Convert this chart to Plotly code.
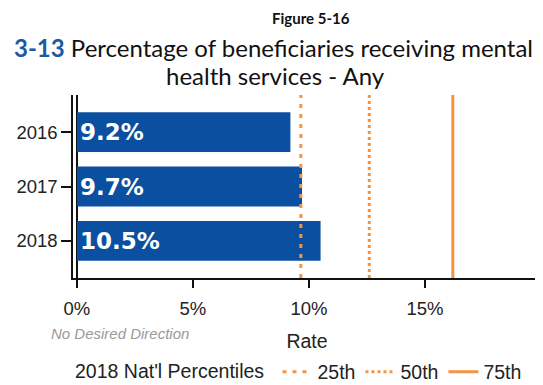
import plotly.graph_objects as go

years = ["2016", "2017", "2018"]
rates = [9.2, 9.7, 10.5]
pct_names = ["25th", "50th", "75th"]
pct_values = [9.65, 12.6, 16.2]
pct_dashes = ["4px,6px", "3px,3px", "solid"]
x_ticks = [0, 5, 10, 15]
x_tick_labels = ["0%", "5%", "10%", "15%"]

BAR = "#0A4FA0"
ORANGE = "#F39443"

# page has an 8px body margin; figure coordinates = page coordinates - 8
OFF = 8
W, H = 543 - OFF, 385 - OFF
PL, PR, PT, PB = 73, 541, 95, 278   # plot area in page pixels
L, R, T, B = PL - OFF, W - (PR - OFF), PT - OFF, H - (PB - OFF)
PW, PH = W - L - R, H - T - B
def px(x): return (x - OFF - L) / PW
def py(y): return (H - B - (y - OFF)) / PH

fig = go.Figure()
fig.add_trace(go.Bar(
    y=years, x=rates, orientation="h", marker=dict(color=BAR, line=dict(width=0)),
    width=0.73, text=[f"{v:.1f}%" for v in rates], textposition="inside",
    insidetextanchor="start", textangle=0,
    textfont=dict(family="DejaVu Sans", size=23, color="white", weight="bold"),
    showlegend=False, hoverinfo="skip",
))

for name, val, dash in zip(pct_names, pct_values, pct_dashes):
    fig.add_shape(type="line", x0=val, x1=val, xref="x", y0=0, y1=1, yref="paper",
                  line=dict(color=ORANGE, width=3, dash=dash),
                  showlegend=True, name=name, layer="above")

TXT = "#222222"
fig.update_layout(
    template="none",
    width=W, height=H,
    margin=dict(l=L, r=R, t=T, b=B, autoexpand=False),
    paper_bgcolor="white", plot_bgcolor="white",
    font=dict(family="Liberation Sans", color=TXT),
    xaxis=dict(range=[-0.17, 20], tickmode="array", tickvals=x_ticks, ticktext=x_tick_labels,
               automargin=False, showgrid=False,
               zeroline=True, zerolinecolor="#111111", zerolinewidth=1.5,
               showline=True, linecolor="#111111", linewidth=1.5,
               ticks="outside", ticklen=8, tickcolor="#111111", tickwidth=1.5,
               ticklabelstandoff=5,
               tickfont=dict(size=18.5, color=TXT),
               title=dict(text="Rate", font=dict(size=19.5, color=TXT), standoff=16)),
    yaxis=dict(type="category", range=[2.68, -0.68], showgrid=False, automargin=False,
               showline=True, linecolor="#111111", linewidth=1.5,
               ticks="outside", ticklen=10, tickcolor="#111111", tickwidth=1.5,
               tickfont=dict(size=18.5, color=TXT)),
    legend=dict(orientation="h", x=px(73), xanchor="left", y=py(372), yanchor="middle",
                title=dict(text="2018 Nat'l Percentiles ", font=dict(size=19.5, color=TXT)),
                font=dict(size=19.5, color=TXT), itemwidth=30,
                tracegroupgap=0, bgcolor="rgba(0,0,0,0)"),
    annotations=[
        dict(text="<b>Figure 5-16</b>", x=px(311), y=py(18), xref="paper", yref="paper",
             xanchor="center", yanchor="middle",
             showarrow=False, font=dict(family="Lato", size=15, color="#111111")),
        dict(text="<span style='color:#1B5AA6'><b>3-13</b></span> Percentage of beneficiaries receiving mental",
             x=px(273), y=py(48), xref="paper", yref="paper", xanchor="center", yanchor="middle",
             showarrow=False, font=dict(family="Lato", size=24, color="#111111")),
        dict(text="health services - Any",
             x=px(275), y=py(75), xref="paper", yref="paper", xanchor="center", yanchor="middle",
             showarrow=False, font=dict(family="Lato", size=24, color="#111111")),
        dict(text="<i>No Desired Direction</i>", x=px(120), y=py(333), xref="paper", yref="paper",
             xanchor="center", yanchor="middle", showarrow=False,
             font=dict(family="Liberation Sans", size=15, color="#999999")),
    ],
)

fig.write_html("out.html")
